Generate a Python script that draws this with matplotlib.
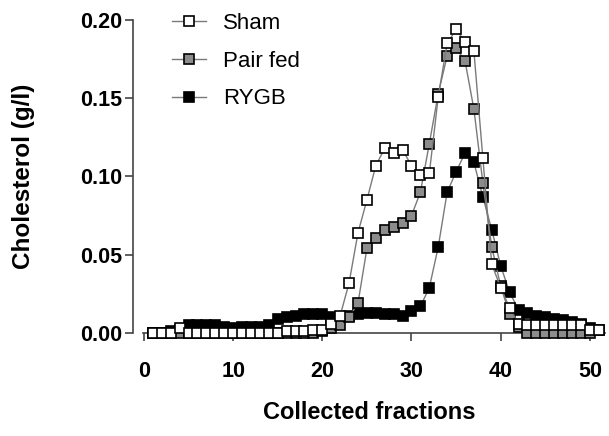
import numpy as np
import matplotlib
matplotlib.use("Agg")
import matplotlib.pyplot as plt

plt.rcParams['font.family'] = ['Liberation Sans', 'DejaVu Sans']

# ----------- DATA -----------
fractions = np.arange(1, 52)

sham = [0, 0, 0, 0.003, 0, 0, 0, 0, 0, 0,
        0, 0, 0, 0, 0, 0.001, 0.001, 0.001, 0.002, 0.002,
        0.006, 0.011, 0.032, 0.064, 0.085, 0.107, 0.118, 0.115, 0.117, 0.107,
        0.101, 0.102, 0.151, 0.185, 0.194, 0.186, 0.180, 0.112, 0.044, 0.029,
        0.016, 0.006, 0.005, 0.005, 0.005, 0.005, 0.005, 0.005, 0.005, 0.002,
        0.002]

pair_fed = [0, 0, 0, 0, 0, 0, 0, 0, 0, 0,
            0, 0, 0, 0, 0, 0, 0, 0, 0, 0.001,
            0.003, 0.005, 0.010, 0.019, 0.054, 0.061, 0.066, 0.068, 0.070, 0.075,
            0.090, 0.121, 0.153, 0.177, 0.182, 0.174, 0.143, 0.096, 0.055, 0.030,
            0.012, 0.004, 0, 0, 0, 0, 0, 0, 0, 0]

rygb = [0, 0, 0.001, 0.002, 0.005, 0.005, 0.005, 0.005, 0.004, 0.003,
        0.004, 0.004, 0.004, 0.005, 0.009, 0.010, 0.011, 0.012, 0.012, 0.012,
        0.010, 0.010, 0.011, 0.012, 0.013, 0.013, 0.012, 0.012, 0.011, 0.014,
        0.017, 0.029, 0.055, 0.090, 0.103, 0.115, 0.109, 0.087, 0.066, 0.043,
        0.026, 0.015, 0.013, 0.011, 0.010, 0.009, 0.008, 0.007, 0.006, 0.003,
        0.002]

x_ticks = [0, 10, 20, 30, 40, 50]
y_ticks = [0.00, 0.05, 0.10, 0.15, 0.20]

# ----------- FIGURE -----------
W, H = 609, 436
fig = plt.figure(figsize=(W / 100, H / 100), dpi=100)
ax = fig.add_axes([133 / W, (H - 333) / H, (605 - 133) / W, (333 - 20) / H])

line_kw = dict(color="#7a7a7a", lw=1.0, marker="s", markersize=7.2,
               markeredgecolor="black", markeredgewidth=1.2, clip_on=False)

ax.plot(fractions, rygb, markerfacecolor="black", label="RYGB", zorder=3, **line_kw)
ax.plot(fractions[:len(pair_fed)], pair_fed, markerfacecolor="#8c8c8c",
        label="Pair fed", zorder=4, **line_kw)
ax.plot(fractions, sham, markerfacecolor="white", label="Sham", zorder=5, **line_kw)

ax.set_xlim(-1.23, 51.7)
ax.set_ylim(0, 0.2)

for s in ["top", "right"]:
    ax.spines[s].set_visible(False)
for s in ["left", "bottom"]:
    ax.spines[s].set_color("#444444")
    ax.spines[s].set_linewidth(1.2)
ax.spines["bottom"].set_bounds(-0.1, 51.7)

ax.set_xticks(x_ticks)
ax.set_yticks(y_ticks)
ax.set_yticklabels([f"{v:.2f}" for v in y_ticks])
ax.tick_params(axis="both", direction="out", length=6, width=1.2, color="#444444",
               labelsize=15.5, pad=2)
ax.tick_params(axis="x", pad=14)
for lab in ax.get_xticklabels() + ax.get_yticklabels():
    lab.set_fontweight("bold")

ax.set_xlabel("Collected fractions", fontsize=17, fontweight="bold", labelpad=14)
ax.set_ylabel("Cholesterol (g/l)", fontsize=17.5, fontweight="bold", labelpad=32)

handles, labels = ax.get_legend_handles_labels()
order = [2, 1, 0]
ax.legend([handles[i] for i in order], [labels[i] for i in order],
          loc="upper left", bbox_to_anchor=(172 / W, 1 - 13 / H),
          bbox_transform=fig.transFigure, frameon=False, fontsize=16,
          borderpad=0, borderaxespad=0, handlelength=1.55, handletextpad=0.75,
          labelspacing=0.75)

fig.savefig("out.png", dpi=100)
